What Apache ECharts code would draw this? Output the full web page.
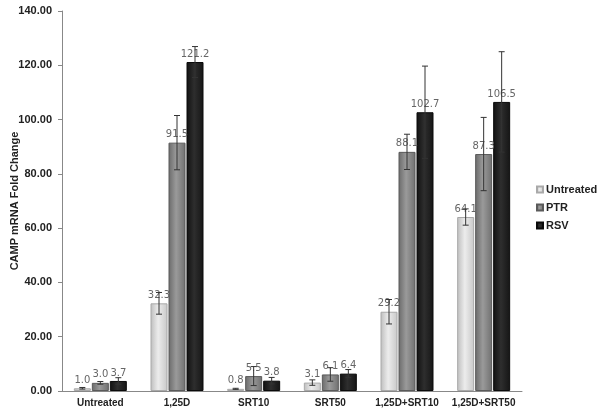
<!DOCTYPE html>
<html><head><meta charset="utf-8">
<script src="https://cdn.jsdelivr.net/npm/echarts@6/dist/echarts.min.js"></script>
<style>html,body{margin:0;padding:0;background:#fff}#c{width:600px;height:411px}</style>
</head><body><div id="c"></div>
<script>
var categories = ['Untreated','1,25D','SRT10','SRT50','1,25D+SRT10','1,25D+SRT50'];
var seriesNames = ['Untreated','PTR','RSV'];
var untreated = [1.0, 32.3, 0.8, 3.1, 29.2, 64.1];
var ptr       = [3.0, 91.5, 5.5, 6.1, 88.1, 87.3];
var rsv       = [3.7, 121.2, 3.8, 6.4, 102.7, 106.5];
var untreatedErr = [0.3, 4.0, 0.2, 1.0, 4.5, 3.0];
var ptrErr       = [0.5, 10.0, 3.5, 2.5, 6.5, 13.5];
var rsvErr       = [1.2, 5.7, 1.2, 1.5, 17.0, 18.5];
var yTicks = [0,20,40,60,80,100,120,140];

var BW = 17, GAP = 1;
function grad(c1,c2,c3){
  return new echarts.graphic.LinearGradient(0,0,1,0,[
    {offset:0,color:c1},{offset:0.45,color:c2},{offset:1,color:c3}]);
}
var fills = [grad('#bdbdbd','#ececec','#c8c8c8'), grad('#6a6a6a','#9a9a9a','#707070'), grad('#111','#2e2e2e','#151515')];
var borders = ['#a9a9a9','#5a5a5a','#0a0a0a'];
var vals = [untreated, ptr, rsv];
var errs = [untreatedErr, ptrErr, rsvErr];

var series = [];
seriesNames.forEach(function(n,i){
  series.push({
    name:n, type:'bar', barWidth:BW, barGap:(GAP/BW*100)+'%',
    data: vals[i],
    itemStyle:{color:fills[i], borderColor:borders[i], borderWidth:1},
    label:{show:true, position:'top', distance:3, formatter:function(p){return p.value.toFixed(1);}, color:'#666', fontSize:10, fontFamily:'DejaVu Sans'}
  });
});
seriesNames.forEach(function(n,i){
  var off = (i-1)*(BW+GAP);
  series.push({
    type:'custom', name:n+' err', silent:true, z:5,
    data: vals[i].map(function(v,k){return [k, v-errs[i][k], v+errs[i][k]];}),
    renderItem:function(params, api){
      var x = api.coord([api.value(0), 0])[0] + off;
      var lo = api.coord([api.value(0), api.value(1)])[1];
      var hi = api.coord([api.value(0), api.value(2)])[1];
      var st = {stroke:'#333', lineWidth:1};
      return {type:'group', children:[
        {type:'line', shape:{x1:x,y1:lo,x2:x,y2:hi}, style:st},
        {type:'line', shape:{x1:x-3,y1:lo,x2:x+3,y2:lo}, style:st},
        {type:'line', shape:{x1:x-3,y1:hi,x2:x+3,y2:hi}, style:st}
      ]};
    }
  });
});

var chart = echarts.init(document.getElementById('c'));
chart.setOption({
  animation:false,
  backgroundColor:'#fff',
  grid:{left:62, right:78, top:11, bottom:20, containLabel:false, outerBoundsMode:'none'},
  legend:{
    orient:'vertical', left:531, top:179, itemWidth:6, itemHeight:6, itemGap:7, icon:'rect',
    data: seriesNames.map(function(n,i){return {name:n, itemStyle:{color:fills[i], borderColor:borders[i]}};}),
    textStyle:{fontSize:11, fontWeight:'bold', color:'#222', fontFamily:'Liberation Sans', padding:[0,0,0,-2]}
  },
  xAxis:{
    type:'category', data:categories,
    axisLine:{lineStyle:{color:'#888'}},
    axisTick:{length:4, lineStyle:{color:'#888'}},
    axisLabel:{fontSize:10, fontWeight:'bold', color:'#222', fontFamily:'Liberation Sans', margin:7, interval:0}
  },
  yAxis:{
    type:'value', min:yTicks[0], max:yTicks[yTicks.length-1], interval:yTicks[1]-yTicks[0],
    name:'CAMP mRNA Fold Change', nameLocation:'middle', nameGap:42, nameMoveOverlap:false,
    nameTextStyle:{fontSize:11, fontWeight:'bold', color:'#222', fontFamily:'Liberation Sans'},
    axisLine:{show:true, lineStyle:{color:'#888'}},
    axisTick:{show:true, length:4, lineStyle:{color:'#888'}},
    splitLine:{show:false},
    axisLabel:{fontSize:11, fontWeight:'bold', color:'#222', fontFamily:'Liberation Sans', margin:10, formatter:function(v){return v.toFixed(2);}}
  },
  series: series
});
</script></body></html>
